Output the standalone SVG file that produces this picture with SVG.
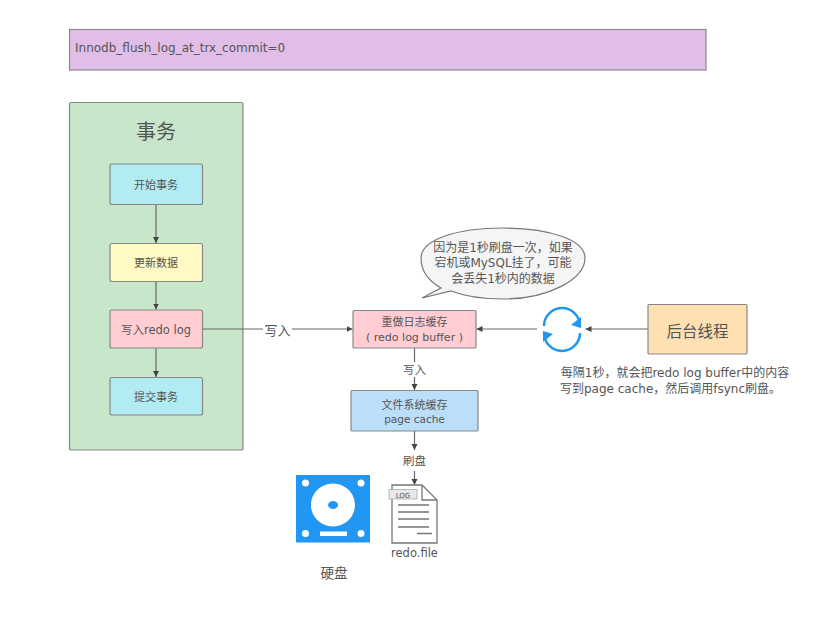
<svg xmlns="http://www.w3.org/2000/svg" width="829" height="620" viewBox="0 0 829 620">
  <defs>
    <marker id="arrow" markerUnits="userSpaceOnUse" markerWidth="7" markerHeight="7" refX="6" refY="3.5" orient="auto">
      <path d="M0,0.5 L6,3.500 L0,6.500 Z" fill="#444"/>
    </marker>
  </defs>
  <style>
    text { font-family: "DejaVu Sans", "Noto Sans CJK SC", sans-serif; fill: #555; text-anchor: middle; font-size: 11px; }
    .box { stroke: #888; stroke-width: 1.2; }
    .edge { fill: none; stroke: #666; stroke-width: 1.2; marker-end: url(#arrow); }
    .plain { fill: none; stroke: #666; stroke-width: 1.2; }
    .doc { fill: none; stroke: #777; stroke-width: 1.3; }
    .note { font-size: 12px; }
  </style>
  <rect width="829" height="620" fill="#ffffff"/>

  <g id="config-banner">
    <rect class="box" x="69.500" y="29.500" width="636.500" height="40.500" fill="#e1bee7"/>
    <text x="75" y="51.500" style="text-anchor:start;font-size:12px">Innodb_flush_log_at_trx_commit=0</text>
  </g>

  <g id="transaction-panel">
    <rect class="box" x="69.500" y="102.500" width="173.500" height="347.500" rx="2" fill="#c8e6c9"/>
    <text x="156" y="139" style="font-size:20px">事务</text>
  </g>

  <g id="connectors">
    <path class="edge" d="M156,204.500 V243"/>
    <path class="edge" d="M156,281.500 V309.500"/>
    <path class="edge" d="M156,348.500 V377"/>
    <path class="plain" d="M203,329 H263"/>
    <path class="edge" d="M292,329 H352.500"/>
    <path class="edge" d="M537,329 H476.500"/>
    <path class="edge" d="M648,329 H585.500"/>
    <path class="plain" d="M414.500,348 V362"/>
    <path class="edge" d="M414.500,377 V390"/>
    <path class="edge" d="M414.500,431 V450"/>
    <path class="edge" d="M414.500,471 V485"/>
  </g>

  <g id="begin-transaction">
    <rect class="box" x="110" y="164" width="92.500" height="40.500" rx="2" fill="#b2ebf2"/>
    <text x="156" y="188.500">开始事务</text>
  </g>
  <g id="update-data">
    <rect class="box" x="110" y="243.500" width="92.500" height="38" rx="2" fill="#fff9c4"/>
    <text x="156" y="267">更新数据</text>
  </g>
  <g id="write-redo-log">
    <rect class="box" x="110" y="310" width="92.500" height="38" rx="2" fill="#ffcdd2"/>
    <text x="156" y="333.500" style="font-size:11.500px">写入redo log</text>
  </g>
  <g id="commit-transaction">
    <rect class="box" x="110" y="377.500" width="92.500" height="37.500" rx="2" fill="#b2ebf2"/>
    <text x="156" y="400.500">提交事务</text>
  </g>

  <g id="edge-labels">
    <text x="277.500" y="334.500" style="font-size:13px">写入</text>
    <text x="414.500" y="373.500" style="font-size:11.500px">写入</text>
    <text x="414.500" y="465" style="font-size:11.500px">刷盘</text>
  </g>

  <g id="redo-log-buffer">
    <rect class="box" x="353" y="310.500" width="123" height="37.500" rx="1" fill="#ffcdd2"/>
    <text x="414.500" y="326">重做日志缓存</text>
    <text x="414.500" y="341">( redo log buffer )</text>
  </g>
  <g id="page-cache">
    <rect class="box" x="351" y="390.500" width="127" height="40.500" rx="1" fill="#bbdefb"/>
    <text x="414.500" y="409">文件系统缓存</text>
    <text x="414.500" y="423" style="font-size:10.500px">page cache</text>
  </g>

  <g id="speech-bubble">
    <path d="M422,298 L441,288 C425,279 421,268 421,258 C421,240 456,228 503,228 C550,228 585,240 585,258 C585,279 549,299 503,299 C481,299 464,296 451,291 Z" fill="#f5f5f5" stroke="#777" stroke-width="1.2"/>
    <text class="note" x="503" y="252">因为是1秒刷盘一次，如果</text>
    <text class="note" x="503" y="267">宕机或MySQL挂了，可能</text>
    <text class="note" x="503" y="283">会丢失1秒内的数据</text>
  </g>

  <g id="refresh-cycle">
    <g fill="none" stroke="#2196f3" stroke-width="2.500">
      <path d="M544,326 A18,18 0 0 1 580,326"/>
      <path d="M580,333 A18,18 0 0 1 544,333"/>
    </g>
    <path d="M581,317 V328 L571,325 Z" fill="#2196f3"/>
    <path d="M543,342 V331 L553,334 Z" fill="#2196f3"/>
  </g>

  <g id="background-thread">
    <rect class="box" x="648" y="304.500" width="99" height="49.500" rx="1" fill="#ffe0b2"/>
    <text x="697.500" y="336.500" style="font-size:15.500px">后台线程</text>
  </g>

  <g id="thread-note">
    <text class="note" x="675" y="377">每隔1秒，就会把redo log buffer中的内容</text>
    <text class="note" x="670.500" y="392.500">写到page cache，然后调用fsync刷盘。</text>
  </g>

  <g id="hard-disk">
    <rect x="296" y="475" width="74" height="67.500" fill="#2196f3"/>
    <g fill="#ffffff">
      <circle cx="305.500" cy="483" r="3.500"/>
      <circle cx="361" cy="483" r="3.500"/>
      <circle cx="305.500" cy="533.500" r="3.500"/>
      <circle cx="361" cy="533.500" r="3.500"/>
      <rect x="320" y="531.500" width="27" height="4.500"/>
      <path fill-rule="evenodd" d="M333,483.500 A22,21.500 0 1 1 332.900,483.500 Z M333,501 A5,4 0 1 0 333.100,501 Z"/>
    </g>
    <text x="334" y="578" style="font-size:13.500px">硬盘</text>
  </g>

  <g id="redo-file">
    <path d="M392,485 H422 L437,500 V543 H392 Z" fill="#ffffff" stroke="#777" stroke-width="1.300"/>
    <path class="doc" d="M422,485 V500 H437"/>
    <rect x="389" y="489.500" width="28" height="9.500" fill="#e8e8e8" stroke="#aaa" stroke-width="0.800"/>
    <text x="403" y="497.500" style="font-size:7px">LOG</text>
    <path class="doc" d="M398,505 H429 M398,512 H429 M398,519 H429 M398,527 H429 M417,533.500 H432"/>
    <text x="414.500" y="557" style="font-size:11.500px">redo.file</text>
  </g>
</svg>
